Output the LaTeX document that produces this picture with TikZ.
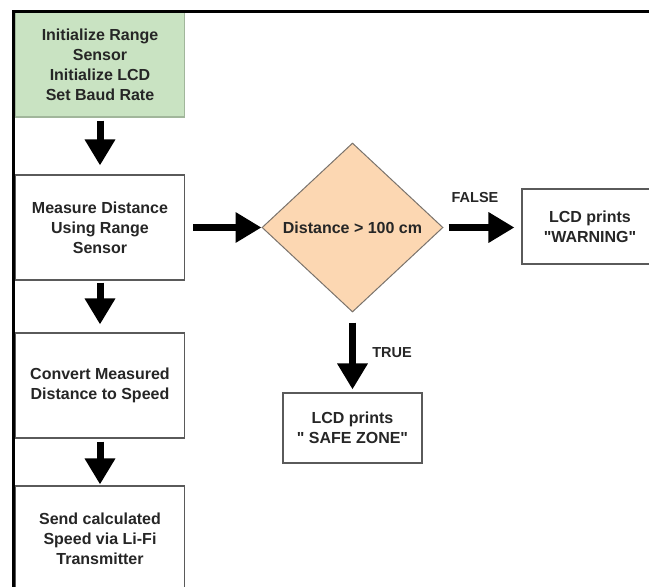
\documentclass[tikz,border=0pt]{standalone}
\usepackage{fontspec}
\setmainfont{Liberation Sans}
\usetikzlibrary{shapes.geometric,arrows.meta}
\definecolor{greenfill}{HTML}{C9E3C2}
\definecolor{peach}{HTML}{FCD7B2}
\definecolor{boxline}{HTML}{5A5A5A}
\definecolor{txt}{HTML}{262626}
\tikzset{
  procbox/.style={draw=boxline, line width=1.1pt, fill=white, inner sep=0pt,
    align=center, font=\bfseries\fontsize{16}{20}\selectfont, text=txt},
  decision/.style={diamond, draw=boxline!80!peach, line width=1pt, fill=peach, inner sep=0pt,
    minimum width=181pt, minimum height=169pt, font=\bfseries\fontsize{16}{20}\selectfont, text=txt},
  flowarrow/.style={line width=7pt, -{Triangle[length=26pt,width=29pt]}},
  lbl/.style={font=\bfseries\fontsize{14.5}{16}\selectfont, text=txt, inner sep=0pt}
}
\begin{document}
\begin{tikzpicture}[x=1pt,y=-1pt]
\useasboundingbox (0,0) rectangle (649,587);
\begin{scope}
\clip (0,0) rectangle (649,587);
\node[procbox, fill=greenfill, draw=greenfill!80!black, minimum width=169pt, minimum height=105pt] (init) at (100,64.5)
  {Initialize Range\\Sensor\\Initialize LCD\\Set Baud Rate};
\node[procbox, minimum width=169pt, minimum height=105pt] (measure) at (100,227.5)
  {Measure Distance\\Using Range\\Sensor};
\node[procbox, minimum width=169pt, minimum height=105pt] (convert) at (100,385.5)
  {Convert Measured\\Distance to Speed};
\node[procbox, minimum width=169pt, minimum height=105pt] (send) at (100,538.5)
  {Send calculated\\Speed via Li-Fi\\Transmitter};
\node[decision] (dec) at (352.5,227.5) {Distance > 100 cm};
\node[procbox, minimum width=136pt, minimum height=75pt] (warn) at (590,226.5)
  {LCD prints\\\textquotedbl WARNING\textquotedbl};
\node[procbox, minimum width=139pt, minimum height=70pt] (safe) at (352.5,428)
  {LCD prints\\\textquotedbl\ SAFE ZONE\textquotedbl};

\draw[flowarrow, shorten <=3pt, shorten >=9pt] (init) -- (measure);
\draw[flowarrow, shorten <=2pt, shorten >=8pt] (measure) -- (convert);
\draw[flowarrow, shorten <=3pt, shorten >=1pt] (convert) -- (send);
\draw[flowarrow, shorten <=8pt, shorten >=0pt] (measure.east) -- (dec.west);
\draw[flowarrow, shorten <=5pt, shorten >=7pt] (dec.east) -- (dec.east -| warn.west);
\draw[flowarrow, shorten <=10pt, shorten >=3pt] (dec.south) -- (safe.north);

\node[lbl] (falselbl) at (475,198) {FALSE};
\node[lbl] (truelbl) at (392,353) {TRUE};

\coordinate (fbl) at (13.5,590);
\coordinate (ftl) at (13.5,11);
\coordinate (ftr) at (652,11);
\draw[line width=3pt, black] (fbl) -- (ftl) -- (ftr);
\end{scope}
\end{tikzpicture}
\end{document}
